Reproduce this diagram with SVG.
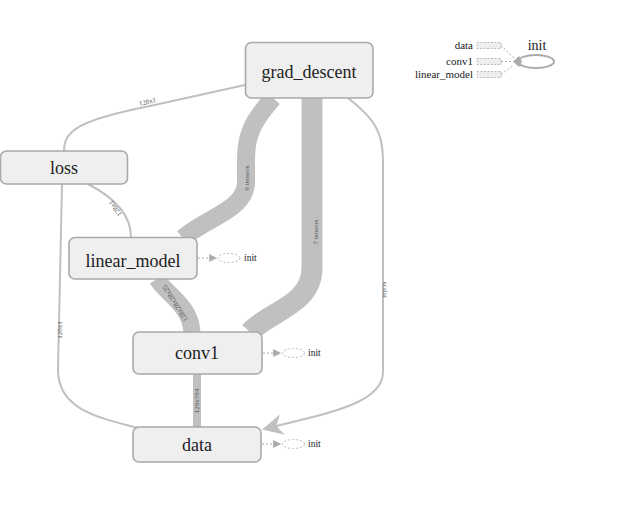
<svg xmlns="http://www.w3.org/2000/svg" width="640" height="511" viewBox="0 0 640 511">
<defs>
<style>
.node rect{fill:#efefef;stroke:#a9a9a9;stroke-width:1.6}
.lbl{font-family:"Liberation Serif","Times New Roman",serif;font-size:18px;fill:#222;text-anchor:middle}
.thin{fill:none;stroke:#c0c0c0;stroke-width:2}
.thick{fill:none;stroke:#c0c0c0}
.elbl{font-family:"Liberation Serif","Times New Roman",serif;font-size:7px;fill:#555;text-anchor:middle}
.dot{fill:none;stroke:#aaa;stroke-width:1;stroke-dasharray:2,2}
.dell{fill:none;stroke:#bbb;stroke-width:1;stroke-dasharray:2,2}
.init{font-family:"Liberation Serif","Times New Roman",serif;font-size:9.5px;fill:#222}
.leg{font-family:"Liberation Serif","Times New Roman",serif;font-size:11px;fill:#222;text-anchor:end}
.legrect{fill:#eee;stroke:#bbb;stroke-width:1;stroke-dasharray:2,1.5}
</style>
<marker id="big" viewBox="0 0 10 10" refX="9" refY="5" markerWidth="21" markerHeight="21" markerUnits="userSpaceOnUse" orient="auto">
<path d="M0,0 L10,5 L0,10 L3,5 z" fill="#c0c0c0"/>
</marker>
<marker id="sm" viewBox="0 0 10 10" refX="1" refY="5" markerWidth="8" markerHeight="8" markerUnits="userSpaceOnUse" orient="auto">
<path d="M0,0 L10,5 L0,10 z" fill="#aaa"/>
</marker>
</defs>
<rect width="640" height="511" fill="#fff"/>
<g id="connectors">
<path class="thin" d="M245,85 L150,106 C 80,120 64,130 64,151"/>
<text class="elbl" transform="translate(148,104) rotate(-13)">128x1</text>
<path class="thin" d="M88,184 C 115,198 131,215 131,237"/>
<text class="elbl" transform="translate(117,207) rotate(-125)">128x1</text>
<path class="thin" d="M62,184 L58,370 C 58,410 100,418 138,428"/>
<text class="elbl" transform="translate(62,330) rotate(-90)">128x1</text>
<path class="thick" stroke-width="18" d="M273,98 C 252,122 246,135 246,160 L246,182 C 246,210 205,218 183,238"/>
<text class="elbl" transform="translate(249,178) rotate(-90)">6 tensors</text>
<path class="thick" stroke-width="21" d="M312,98 L312,268 C 312,305 268,312 250,332"/>
<text class="elbl" transform="translate(318,232) rotate(-90)">7 tensors</text>
<path class="thick" stroke-width="17" d="M157,279 C 168,296 190,305 192,332"/>
<text class="elbl" transform="translate(177,302) rotate(-122)">128x28x28x25</text>
<path class="thick" stroke-width="8" d="M197,374 L197,427"/>
<text class="elbl" transform="translate(199,401) rotate(-90)">128x784</text>
<path class="thin" d="M348,98 C 374,118 383,132 383,160 L383,372 C 383,402 335,412 264,429" marker-end="url(#big)"/>
<text class="elbl" transform="translate(383,290) rotate(90)">scalar</text>
</g>
<g id="grad_descent" class="node">
<rect x="245.5" y="42.5" width="127.5" height="55.5" rx="6"/>
<text class="lbl" x="309" y="78">grad_descent</text>
</g>
<g id="loss" class="node">
<rect x="0.5" y="151" width="127" height="33" rx="6"/>
<text class="lbl" x="64" y="174">loss</text>
</g>
<g id="linear_model" class="node">
<rect x="69" y="237.5" width="128" height="41.5" rx="6"/>
<text class="lbl" x="133" y="267">linear_model</text>
<path class="dot" d="M198,258 L210,258" marker-end="url(#sm)"/>
<ellipse class="dell" cx="229" cy="258" rx="11" ry="4.5"/>
<text class="init" x="244" y="261">init</text>
</g>
<g id="conv1" class="node">
<rect x="133" y="332" width="129" height="42" rx="6"/>
<text class="lbl" x="197" y="359">conv1</text>
<path class="dot" d="M263,353 L274,353" marker-end="url(#sm)"/>
<ellipse class="dell" cx="293.5" cy="353" rx="11" ry="4.5"/>
<text class="init" x="308" y="356">init</text>
</g>
<g id="data" class="node">
<rect x="133" y="427" width="128" height="35" rx="6"/>
<text class="lbl" x="197" y="451">data</text>
<path class="dot" d="M262,444 L274,444" marker-end="url(#sm)"/>
<ellipse class="dell" cx="293.5" cy="444" rx="11" ry="4.5"/>
<text class="init" x="308" y="447">init</text>
</g>
<g id="init">
<text class="leg" x="473" y="49">data</text>
<rect class="legrect" x="477" y="42.5" width="24" height="6"/>
<text class="leg" x="473" y="65">conv1</text>
<rect class="legrect" x="477" y="58.5" width="24" height="6"/>
<text class="leg" x="473" y="78">linear_model</text>
<rect class="legrect" x="477" y="71.5" width="24" height="6"/>
<path class="dot" d="M501,45.5 L514,58"/>
<path class="dot" d="M501,61.5 L514,61.5"/>
<path class="dot" d="M501,74.5 L514,65"/>
<path d="M513,61.5 L519,56 L522,61.5 L519,67 z" fill="#aaa"/>
<ellipse cx="536" cy="61.5" rx="18" ry="6.5" fill="none" stroke="#aaa" stroke-width="2"/>
<text x="537" y="50" font-family="Liberation Serif,Times New Roman,serif" font-size="14" fill="#222" text-anchor="middle">init</text>
</g>
</svg>
